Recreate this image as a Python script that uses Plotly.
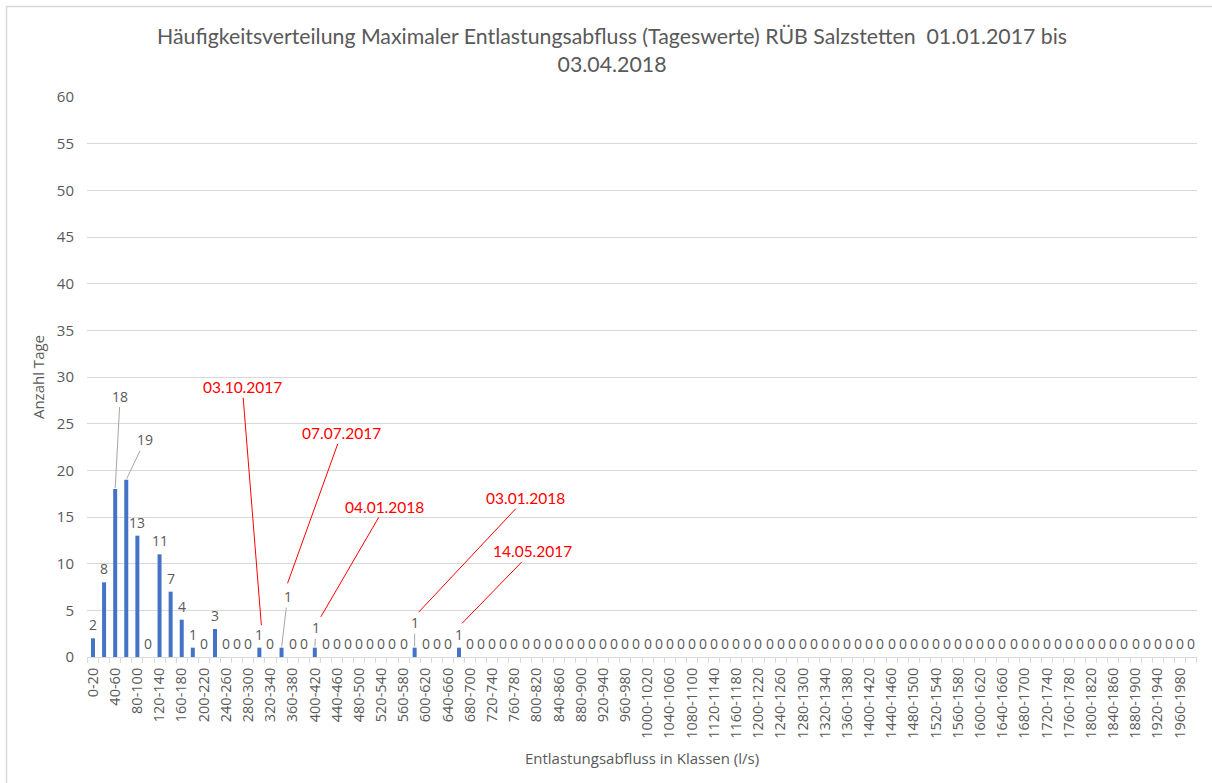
import plotly.graph_objects as go

# ---- data ----
lower_bounds = list(range(0, 2000, 20))
categories = [f"{lo}-{lo + 20}" for lo in lower_bounds]
values = [2, 8, 18, 19, 13, 0, 11, 7, 4, 1,
          0, 3, 0, 0, 0, 1, 0, 1, 0, 0,
          1, 0, 0, 0, 0, 0, 0, 0, 0, 1,
          0, 0, 0, 1] + [0] * 66
tick_text = [c if i % 2 == 0 else "" for i, c in enumerate(categories)]

event_categories = ["300-320", "340-360", "400-420", "580-600", "660-680"]
event_dates = ["03.10.2017", "07.07.2017", "04.01.2018", "03.01.2018", "14.05.2017"]

title_text = ("Häufigkeitsverteilung Maximaler Entlastungsabfluss (Tageswerte) RÜB Salzstetten  01.01.2017 bis<br>"
              "03.04.2018")

FONT = "Open Sans"
TFONT = "Lato"
GRAY = "#595959"

fig = go.Figure()
fig.add_trace(go.Bar(x=categories, y=values, marker_color="#4472C4",
                     marker_line_width=0, hoverinfo="x+y"))

annotations = []
# data labels: some are displaced with gray leader lines
displaced = {2: (5, -93), 3: (19, -40), 17: (6, -51), 20: (1, -20), 29: (0, -25)}
for i, (c, v) in enumerate(zip(categories, values)):
    if i in displaced:
        ax, ay = displaced[i]
        annotations.append(dict(x=c, y=v, text=str(v), showarrow=True, arrowhead=0,
                                arrowwidth=1, arrowcolor="#a6a6a6", ax=ax, ay=ay,
                                standoff=1, font=dict(family=FONT, size=14, color=GRAY)))
    else:
        annotations.append(dict(x=c, y=v, text=str(v), showarrow=False, yanchor="bottom",
                                yshift=2, font=dict(family=FONT, size=14, color=GRAY)))

# red date callouts: (tip y, xshift, ax, ay)
callout_geom = [(3.4, 2, -19, -238), (7.9, 6, 54, -150), (4.3, 6, 64, -110),
                (4.8, 4, 107, -114), (3.6, 3, 70, -72)]
for c, d, (ty, xs, ax, ay) in zip(event_categories, event_dates, callout_geom):
    annotations.append(dict(x=c, y=ty, xshift=xs, text=d, showarrow=True, arrowhead=0,
                            arrowwidth=1, arrowcolor="#ff0000", ax=ax, ay=ay, standoff=0,
                            font=dict(family=TFONT, size=15.5, color="#ff0000")))

fig.update_layout(
    width=1212, height=783,
    margin=dict(l=87, r=15, t=97, b=126),
    paper_bgcolor="white", plot_bgcolor="white",
    bargap=0.64,
    showlegend=False,
    title=dict(text=title_text, xref="container", x=0.505, xanchor="center",
               yref="container", y=0.944, yanchor="top",
               font=dict(family=TFONT, size=21.3, color=GRAY)),
    font=dict(family=FONT, color=GRAY),
    annotations=annotations,
    xaxis=dict(type="category", tickvals=categories, ticktext=tick_text,
               tickangle=-90, tickson="boundaries", ticks="outside", ticklen=5,
               tickcolor="#d9d9d9", showline=True, linecolor="#d9d9d9", linewidth=1,
               showgrid=False, automargin=False, ticklabelstandoff=4,
               tickfont=dict(family=FONT, size=14.5, color=GRAY),
               title=dict(text="Entlastungsabfluss in Klassen (l/s)", standoff=15,
                          font=dict(family=FONT, size=15, color=GRAY))),
    yaxis=dict(range=[0, 60], dtick=5, showgrid=True, gridcolor="#d9d9d9",
               zeroline=False, showline=False, ticks="", automargin=False,
               ticklabelstandoff=12,
               tickfont=dict(family=FONT, size=15, color=GRAY),
               title=dict(text="Anzahl Tage", standoff=8,
                          font=dict(family=FONT, size=15, color=GRAY))),
    shapes=[dict(type="rect", xref="paper", yref="paper",
                 x0=-0.0725, x1=1.0207, y0=-0.2375, y1=1.1616,
                 line=dict(color="#d9d9d9", width=1.5), layer="below")],
)

fig.write_html("out.html", config={"displayModeBar": False},
               post_script="document.body.style.margin='0';document.body.style.overflow='hidden';")
